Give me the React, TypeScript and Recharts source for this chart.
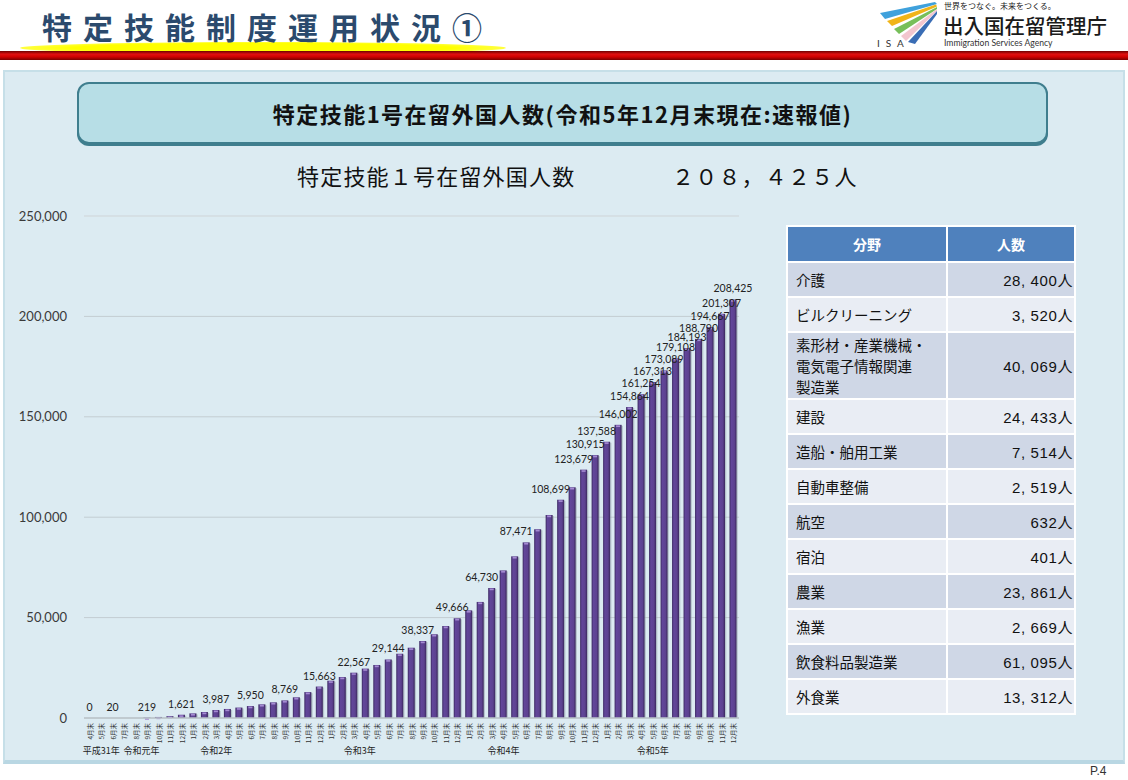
import React from 'react';
import { BarChart, Bar, XAxis, YAxis, CartesianGrid, LabelList } from 'recharts';

// ---------- data ----------
const months = [
  '4月末', '5月末', '6月末', '7月末', '8月末', '9月末', '10月末', '11月末', '12月末',
  '1月末', '2月末', '3月末', '4月末', '5月末', '6月末', '7月末', '8月末', '9月末', '10月末', '11月末', '12月末',
  '1月末', '2月末', '3月末', '4月末', '5月末', '6月末', '7月末', '8月末', '9月末', '10月末', '11月末', '12月末',
  '1月末', '2月末', '3月末', '4月末', '5月末', '6月末', '7月末', '8月末', '9月末', '10月末', '11月末', '12月末',
  '1月末', '2月末', '3月末', '4月末', '5月末', '6月末', '7月末', '8月末', '9月末', '10月末', '11月末', '12月末',
];

const residents = [
  0, 2, 20, 45, 120, 219, 520, 895, 1621,
  2300, 2990, 3987, 4500, 5200, 5950, 6800, 7800, 8769, 10300, 12900, 15663,
  18590, 20400, 22567, 24600, 26400, 29144, 32000, 35000, 38337, 41700, 45800, 49666,
  53600, 57800, 64730, 73500, 80500, 87471, 94000, 101100, 108699, 114900, 123679, 130915,
  137588, 146002, 154864, 161254, 167313, 173089, 179108, 184193, 188790, 194667, 201307, 208425,
];

const labeledIndexes = [0, 2, 5, 8, 11, 14, 17, 20, 23, 26, 29, 32, 35, 38, 41, 43, 44, 45, 46, 47, 48, 49, 50, 51, 52, 53, 54, 55, 56];

const yTicks = [0, 50000, 100000, 150000, 200000, 250000];
const minorTicks = [0, 10000, 20000, 30000, 40000, 50000, 60000, 70000, 80000, 90000, 100000, 110000, 120000, 130000, 140000, 150000, 160000, 170000, 180000, 190000, 200000, 210000, 220000, 230000, 240000, 250000];

const yearLabels = [
  { text: '平成31年', index: 1, half: false },
  { text: '令和元年', index: 4, half: true },
  { text: '令和2年', index: 11, half: false },
  { text: '令和3年', index: 23, half: true },
  { text: '令和4年', index: 36, half: false },
  { text: '令和5年', index: 49, half: false },
];

const tableFields = [
  '介護',
  'ビルクリーニング',
  '素形材・産業機械・\n電気電子情報関連\n製造業',
  '建設',
  '造船・舶用工業',
  '自動車整備',
  '航空',
  '宿泊',
  '農業',
  '漁業',
  '飲食料品製造業',
  '外食業',
];
const tableCounts = [28400, 3520, 40069, 24433, 7514, 2519, 632, 401, 23861, 2669, 61095, 13312];

const data = months.map((m, i) => ({
  month: m,
  value: residents[i],
  label: labeledIndexes.includes(i) ? residents[i] : null,
}));

// ---------- styles ----------
const JP = '"Noto Sans CJK JP", "Noto Sans", sans-serif';
const NUM = 'Lato, "Open Sans", sans-serif';
const HALF_BAND = 5.75;

const fmt = (n: number) => n.toLocaleString('en-US');
const fmtTable = (n: number) => n.toLocaleString('en-US').replace(',', ', ') + '人';

const MonthTick = (props: any) => {
  const { x, y, payload } = props;
  const idx = payload && payload.index !== undefined ? payload.index : props.index;
  const year = yearLabels.find((yl) => yl.index === idx);
  return (
    <g>
      <text
        transform={`translate(${x},${y + 5}) rotate(-90)`}
        textAnchor="end"
        dominantBaseline="central"
        fontSize={6.5}
        fontFamily={JP}
        fill="#333"
      >
        {payload.value}
      </text>
      {year && (
        <text
          x={x + (year.half ? HALF_BAND : 0)}
          y={y + 36}
          textAnchor="middle"
          fontSize={9}
          fontFamily={JP}
          fill="#222"
        >
          {year.text}
        </text>
      )}
    </g>
  );
};

const BarShape = (p: any) => {
  const { x, y, width, height } = p;
  if (!height || height <= 0.3) return <g />;
  return (
    <g>
      <rect x={x + 1.3} y={y + 1} width={width} height={Math.max(height - 1, 0)} fill="#97a6ae" opacity={0.55} />
      <rect x={x} y={y} width={width} height={height} fill="url(#barGrad)" />
      <rect x={x + 1.5} y={y + 0.6} width={Math.max(width - 3, 0)} height={1.6} fill="#a58bd2" />
    </g>
  );
};

const labelNudge = (i: number) => (i >= 35 && i <= 45 ? -10 : i >= 29 && i <= 34 ? -5 : 0);

const DataLabel = (props: any) => {
  const { x, y, width, value, index } = props;
  if (value === null || value === undefined) return null;
  return (
    <text
      x={x + width / 2 + labelNudge(index)}
      y={y - 7}
      textAnchor="middle"
      fontSize={10.5}
      fontFamily={NUM}
      fill="#222"
    >
      {fmt(value)}
    </text>
  );
};

export default function App() {
  return (
    <div
      style={{
        position: 'absolute',
        left: 0,
        top: 0,
        width: 1128,
        height: 780,
        background: '#ffffff',
        overflow: 'hidden',
        fontFamily: JP,
      }}
    >
      <svg width={0} height={0} style={{ position: 'absolute' }}>
        <defs>
          <linearGradient id="barGrad" x1="0" y1="0" x2="1" y2="0">
            <stop offset="0%" stopColor="#3b2860" />
            <stop offset="25%" stopColor="#62469a" />
            <stop offset="70%" stopColor="#5d4290" />
            <stop offset="100%" stopColor="#3a275c" />
          </linearGradient>
          <linearGradient id="redBar" x1="0" y1="0" x2="0" y2="1">
            <stop offset="0%" stopColor="#6e0000" />
            <stop offset="35%" stopColor="#e01010" />
            <stop offset="65%" stopColor="#d00000" />
            <stop offset="100%" stopColor="#7a0000" />
          </linearGradient>
        </defs>
      </svg>

      {/* page title */}
      <div
        style={{
          position: 'absolute',
          left: 20,
          top: 42,
          width: 486,
          height: 12,
          borderRadius: '50%',
          background: 'radial-gradient(ellipse at center, #ffff00 55%, rgba(255,255,0,0.6) 80%, rgba(255,255,0,0) 100%)',
        }}
      />
      <div
        style={{
          position: 'absolute',
          left: 42,
          top: 10,
          fontSize: 30,
          lineHeight: '32px',
          fontWeight: 700,
          letterSpacing: 11,
          color: '#2b4a6d',
          whiteSpace: 'nowrap',
        }}
      >
        特定技能制度運用状況①
      </div>
      <svg style={{ position: 'absolute', left: 0, top: 51 }} width={1128} height={10}>
        <rect x={0} y={0} width={1128} height={9} fill="url(#redBar)" />
      </svg>

      {/* logo */}
      <svg style={{ position: 'absolute', left: 870, top: 0 }} width={80} height={52}>
        <polygon points="10,13 15,19 67,4 65,2" fill="#3fa1dc" />
        <polygon points="17,21 22,26 67,6.5 66,4.5" fill="#f0b418" />
        <polygon points="24,29 29,34 67,9 67,7" fill="#77bf5a" />
        <polygon points="31,36 36,41 67,11 67,9" fill="#f3c6cf" />
        <polygon points="38,42 45,44 67,14 67,11" fill="#3a6db5" />
        <text x={7} y={47} fontSize={10} fontFamily="Lato, sans-serif" letterSpacing={6} fill="#333">ISA</text>
      </svg>
      <div style={{ position: 'absolute', left: 944, top: 1, fontSize: 8, lineHeight: '10px', color: '#222', whiteSpace: 'nowrap' }}>
        世界をつなぐ。未来をつくる。
      </div>
      <div style={{ position: 'absolute', left: 943, top: 14, fontSize: 20.5, lineHeight: '22px', color: '#1a1a1a', fontWeight: 500, whiteSpace: 'nowrap' }}>
        出入国在留管理庁
      </div>
      <div style={{ position: 'absolute', left: 944, top: 38, fontSize: 8.6, lineHeight: '10px', color: '#333', fontFamily: 'Lato, sans-serif', whiteSpace: 'nowrap' }}>
        Immigration Services Agency
      </div>

      {/* panel */}
      <div
        style={{
          position: 'absolute',
          left: 3,
          top: 70,
          width: 1118,
          height: 688,
          background: '#dcebf2',
          border: '2px solid #c6dfe8',
          borderBottom: '4px solid #b9d7e3',
        }}
      />

      {/* header box */}
      <div
        style={{
          position: 'absolute',
          left: 77,
          top: 82,
          width: 967,
          height: 58,
          background: '#b7dee6',
          border: '2px solid #3f7e8e',
          borderRadius: 12,
          boxShadow: '0 2px 0 #3f7e8e',
          display: 'flex',
          alignItems: 'center',
          justifyContent: 'center',
        }}
      >
        <span style={{ fontSize: 22, fontWeight: 700, letterSpacing: 1.5, color: '#111', whiteSpace: 'nowrap' }}>
          特定技能1号在留外国人数(令和5年12月末現在:速報値)
        </span>
      </div>

      {/* subtitle */}
      <div style={{ position: 'absolute', left: 297, top: 163, fontSize: 22, lineHeight: '24px', letterSpacing: 1.2, color: '#111', whiteSpace: 'nowrap' }}>
        特定技能１号在留外国人数
      </div>
      <div style={{ position: 'absolute', left: 672, top: 163, fontSize: 22, lineHeight: '24px', letterSpacing: 1.2, color: '#111', whiteSpace: 'nowrap' }}>
        ２０８，４２５人
      </div>

      {/* chart */}
      <div style={{ position: 'absolute', left: 0, top: 200 }}>
        <BarChart
          width={760}
          height={560}
          data={data}
          margin={{ top: 16, right: 21, left: 0, bottom: 0 }}
          barCategoryGap={0}
        >
          <CartesianGrid yAxisId="minor" vertical={false} stroke="#f3f9fb" strokeWidth={1.2} />
          <CartesianGrid vertical={false} stroke="#c3cdd2" strokeWidth={1} />
          <XAxis
            dataKey="month"
            interval={0}
            height={42}
            tick={<MonthTick />}
            tickLine={false}
            tickSize={0}
            tickMargin={0}
            axisLine={{ stroke: '#b9c3c8', strokeWidth: 1.5 }}
          />
          <YAxis
            width={84}
            domain={[0, 250000]}
            ticks={yTicks}
            tickFormatter={fmt}
            axisLine={false}
            tickLine={false}
            tickMargin={11}
            tick={{ fill: '#3a3a3a', fontSize: 13, fontFamily: NUM }}
          />
          <YAxis yAxisId="minor" hide domain={[0, 250000]} ticks={minorTicks} />
          <Bar dataKey="value" barSize={7} shape={<BarShape />} isAnimationActive={false}>
            <LabelList dataKey="label" content={<DataLabel />} />
          </Bar>
        </BarChart>
      </div>

      {/* table */}
      <table
        style={{
          position: 'absolute',
          left: 786,
          top: 225,
          width: 290,
          borderCollapse: 'separate',
          borderSpacing: 2,
          background: '#ffffff',
          tableLayout: 'fixed',
          fontFamily: JP,
        }}
      >
        <colgroup>
          <col style={{ width: 158 }} />
          <col style={{ width: 126 }} />
        </colgroup>
        <thead>
          <tr style={{ height: 34 }}>
            <th style={{ background: '#4f81bd', color: '#fff', fontSize: 14, fontWeight: 700, padding: 0 }}>分野</th>
            <th style={{ background: '#4f81bd', color: '#fff', fontSize: 14, fontWeight: 700, padding: 0 }}>人数</th>
          </tr>
        </thead>
        <tbody>
          {tableFields.map((f, i) => {
            const bg = i % 2 === 0 ? '#cfd7e6' : '#e9edf4';
            const multi = f.includes('\n');
            return (
              <tr key={i} style={{ height: multi ? 65 : 33 }}>
                <td
                  style={{
                    background: bg,
                    fontSize: 14.5,
                    lineHeight: '21px',
                    color: '#111',
                    padding: '0 0 0 8px',
                    whiteSpace: 'pre-line',
                  }}
                >
                  {f}
                </td>
                <td
                  style={{
                    background: bg,
                    fontSize: 15,
                    color: '#111',
                    textAlign: 'right',
                    padding: '0 1px 0 0',
                    fontFamily: '"Liberation Sans", Arial, ' + JP,
                    letterSpacing: 0.6,
                    whiteSpace: 'pre',
                  }}
                >
                  {fmtTable(tableCounts[i])}
                </td>
              </tr>
            );
          })}
        </tbody>
      </table>

      <div style={{ position: 'absolute', left: 1090, top: 764, fontSize: 12, color: '#333', fontFamily: '"Liberation Sans", sans-serif' }}>
        P.4
      </div>
    </div>
  );
}
